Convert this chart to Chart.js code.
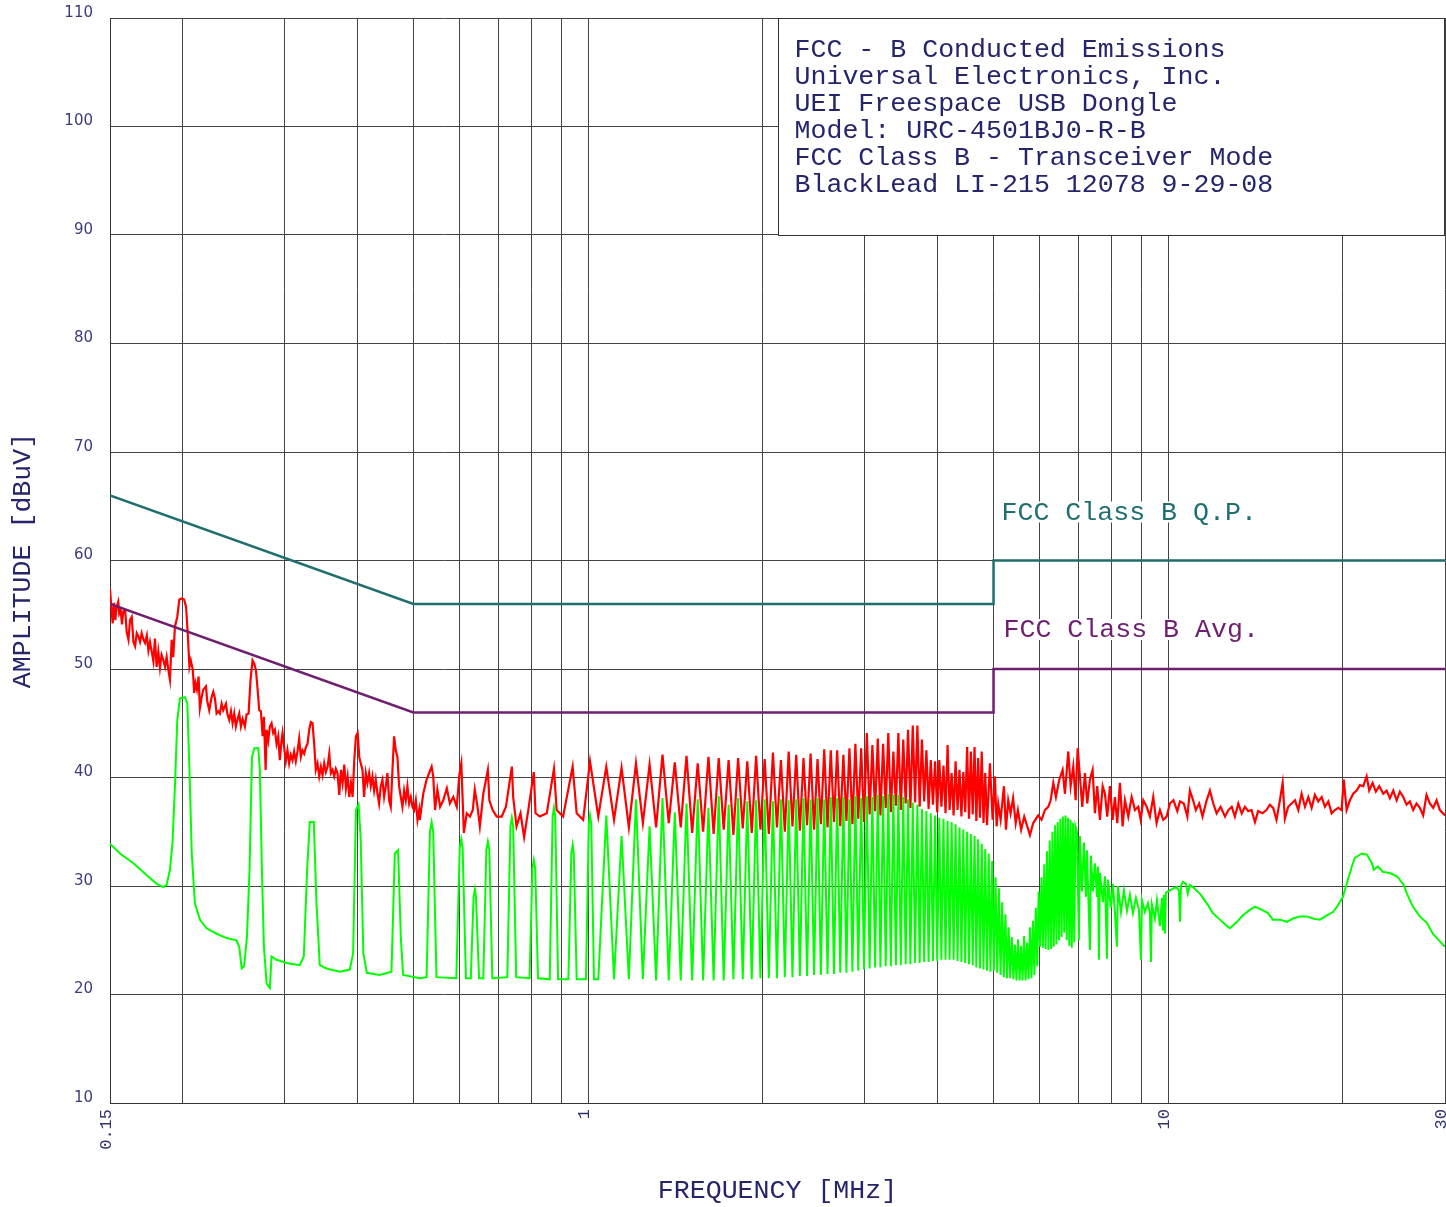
<!DOCTYPE html>
<html>
<head>
<meta charset="utf-8">
<title>FCC - B Conducted Emissions</title>
<script src="https://cdn.jsdelivr.net/npm/chart.js@4.4.1/dist/chart.umd.min.js"></script>
<style>
  html, body { margin: 0; padding: 0; background: #fff; }
  #wrap { width: 1446px; height: 1207px; position: relative; }
</style>
</head>
<body>
<div id="wrap"><canvas id="emissions"></canvas></div>
<script>
// frequency grid (MHz) and the few that carry a label
const freqGrid = [0.15, 0.2, 0.3, 0.4, 0.5, 0.6, 0.7, 0.8, 0.9, 1, 2, 3, 4, 5, 6, 7, 8, 9, 10, 20, 30]
const labeledFreqs = [0.15, 1, 10, 30]
const freqLabels = ['0.15', '1', '10', '30']

const noteLines = [
    'FCC - B Conducted Emissions',
    'Universal Electronics, Inc.',
    'UEI Freespace USB Dongle',
    'Model: URC-4501BJ0-R-B',
    'FCC Class B - Transceiver Mode',
    'BlackLead LI-215 12078 9-29-08'
]

// limit lines [MHz, dBuV]
const qpLimit = [[0.15, 66], [0.5, 56], [5, 56], [5, 60], [30, 60]]
const avgLimit = [[0.15, 56], [0.5, 46], [5, 46], [5, 50], [30, 50]]

// peak detector trace (red) [MHz, dBuV]
const peakLow = [
    [0.1500,57.4],[0.1506,56.1],[0.1516,54.2],[0.1524,56.1],[0.1532,54.5],[0.1540,55.7],[0.1550,56.2],[0.1556,55.1],
    [0.1565,55.4],[0.1573,54.1],[0.1581,55.3],[0.1593,55.4],[0.1603,53.4],[0.1614,52.7],[0.1624,54.5],[0.1635,54.8],
    [0.1646,52.5],[0.1657,52.1],[0.1668,53.3],[0.1679,53.0],[0.1690,52.5],[0.1701,53.3],[0.1713,52.7],[0.1724,52.4],
    [0.1736,53.1],[0.1747,51.7],[0.1758,52.5],[0.1770,51.6],[0.1782,50.7],[0.1793,52.8],[0.1805,50.2],[0.1817,51.6],
    [0.1829,50.1],[0.1841,51.3],[0.1854,50.8],[0.1866,50.2],[0.1878,51.1],[0.1891,49.9],[0.1903,49.0],[0.1916,52.7],
    [0.1928,51.1],[0.1941,53.9],[0.1959,54.8],[0.1975,56.4],[0.1994,56.5],[0.2013,56.4],[0.2029,55.7],[0.2042,53.3],
    [0.2056,50.2],[0.2067,50.8],[0.2084,49.9],[0.2095,47.8],[0.2106,48.7],[0.2118,48.1],[0.2132,49.3],[0.2143,46.4],
    [0.2158,47.4],[0.2172,48.1],[0.2195,48.4],[0.2206,47.1],[0.2224,46.2],[0.2245,47.4],[0.2260,47.9],[0.2275,47.3],
    [0.2290,45.9],[0.2305,46.1],[0.2320,45.9],[0.2336,46.8],[0.2351,46.2],[0.2377,46.8],[0.2389,45.9],[0.2408,45.3],
    [0.2424,46.1],[0.2440,45.0],[0.2456,45.9],[0.2472,44.7],[0.2489,45.4],[0.2505,45.9],[0.2522,44.7],[0.2539,45.4],
    [0.2562,44.7],[0.2579,45.8],[0.2600,45.9],[0.2620,49.0],[0.2641,50.8],[0.2659,50.5],[0.2677,49.9],[0.2695,48.1],
    [0.2712,46.2],[0.2730,46.1],[0.2749,43.8],[0.2763,45.6],[0.2782,40.7],[0.2793,44.4],[0.2811,43.4],[0.2829,44.7],
    [0.2848,45.0],[0.2867,44.1],[0.2886,44.4],[0.2905,43.1],[0.2924,43.8],[0.2943,41.6],[0.2963,43.4],[0.2975,44.1],
    [0.2994,42.8],[0.3014,41.5],[0.3034,42.5],[0.3054,41.3],[0.3074,42.1],[0.3095,41.6],[0.3115,42.4],[0.3136,41.5],
    [0.3157,42.4],[0.3178,43.6],[0.3199,41.9],[0.3220,42.5],[0.3242,42.2],[0.3263,42.8],[0.3285,43.1],[0.3307,44.4],
    [0.3329,45.1],[0.3351,45.0],[0.3373,43.1],[0.3395,40.7],[0.3418,41.3],[0.3441,40.1],[0.3464,41.0],[0.3487,40.2],
    [0.3510,41.3],[0.3533,40.5],[0.3557,41.0],[0.3581,42.2],[0.3604,40.4],[0.3628,40.7],[0.3652,40.1],[0.3676,40.8],
    [0.3701,40.4],[0.3726,38.4],[0.3751,40.7],[0.3776,39.5],[0.3801,41.2],[0.3826,39.0],[0.3852,40.1],[0.3877,38.2],
    [0.3903,39.5],[0.3929,38.2],[0.3955,41.6],[0.3981,43.8],[0.4008,44.1],[0.4034,41.9],[0.4058,41.3],[0.4086,40.7],
    [0.4112,38.2],[0.4140,40.4],[0.4167,39.5],[0.4195,40.4],[0.4223,39.2],[0.4251,40.1],[0.4279,38.8],[0.4307,39.8],
    [0.4336,38.5],[0.4364,37.6],[0.4393,39.2],[0.4423,39.8],[0.4452,38.2],[0.4482,39.2],[0.4511,40.4],[0.4541,37.9],
    [0.4571,37.3],[0.4602,40.7],[0.4632,43.8],[0.4663,42.5],[0.4694,41.9],[0.4725,39.2],[0.4757,38.2],[0.4788,37.3],
    [0.4820,38.8],[0.4852,37.9],[0.4884,39.2],[0.4917,37.6],[0.4950,38.2],[0.4983,37.3],[0.5016,37.0],[0.5049,37.9],
    [0.5083,36.1],[0.5117,37.0]
]
const peakMid = [
    [0.513,36.1],[0.520,38.5],[0.527,39.8],[0.5376,41.0],[0.541,40.1],[0.545,37.0],[0.550,38.9],[0.556,37.3],
    [0.563,37.9],[0.571,39.0],[0.578,37.6],[0.586,38.2],[0.594,37.3],[0.600,40.2],[0.6048,41.3],[0.611,34.9],
    [0.618,36.7],[0.626,36.4],[0.633,37.0],[0.638,38.9],[0.645,37.3],[0.651,35.5],[0.660,38.5],[0.672,40.7],
    [0.676,37.9],[0.685,37.0],[0.696,36.4],[0.710,36.4],[0.722,37.3],[0.7392,41.0],[0.743,38.2],[0.753,35.5],
    [0.765,36.7],[0.776,34.5],[0.789,37.0],[0.8064,40.5],[0.812,36.7],[0.826,36.4],[0.849,36.7],[0.8736,40.8],
    [0.883,37.0],[0.906,36.4],[0.9408,41.0],[0.956,36.7],[0.981,36.1],[1.008,41.5],
    [1.0416,36.4],[1.0752,41.0],[1.1088,36.1],[1.1424,40.9],[1.176,35.4],[1.2096,41.3],[1.2432,35.8],[1.2768,41.2],
    [1.3104,35.4],[1.344,42.1],[1.3776,35.8],[1.4112,41.4],[1.4448,35.4],[1.4784,42.0],[1.512,34.9],[1.5456,41.3],
    [1.5792,35.0],[1.6128,41.9],[1.6464,34.8],[1.68,41.8],[1.7136,35.2],[1.7472,41.6],[1.7808,34.7],[1.8144,41.8],
    [1.848,35.3],[1.8816,41.5],[1.9152,34.9],[1.9488,42.0],[1.9824,35.2],[2.016,41.7],[2.0496,34.8],[2.0832,42.3],
    [2.1168,35.4],[2.1504,41.6],[2.184,35.0],[2.2176,42.4],[2.2512,35.5],[2.2848,42.1],[2.3184,35.1],[2.352,41.8],
    [2.3856,35.6],[2.4192,42.2],[2.4528,35.2],[2.4864,41.7],[2.52,35.7],[2.5536,42.6],[2.5872,35.4],[2.6208,42.5],
    [2.6544,35.9],[2.688,42.5],[2.7216,35.5],[2.7552,42.1],[2.7888,36.0],[2.8224,42.7],[2.856,35.7],[2.8896,43.1],
    [2.9232,36.2],[2.9568,42.7],[2.9904,35.9],[3.024,44.1],[3.0576,36.6],[3.0912,43.0],[3.1248,36.9],[3.1584,43.6],
    [3.192,36.5],[3.2256,43.1],[3.2592,37.2],[3.2928,44.1],[3.3264,36.8],[3.36,42.4],[3.3936,37.4],[3.4272,44.1],
    [3.4608,37.0],[3.4944,43.5],[3.528,37.6],[3.5616,44.4],[3.5952,37.2],[3.6288,44.8],[3.6624,37.7],[3.696,44.8],
    [3.7296,37.3],[3.7632,43.5],[3.7968,37.8],[3.8304,42.5],[3.864,37.1],[3.8976,41.6],[3.9312,37.5],[3.9648,41.5],
    [3.9984,36.8],[4.032,41.6],[4.0656,37.3],[4.0992,41.1],[4.1328,36.7],[4.1664,43.0],[4.2,37.0],[4.2336,40.4],
    [4.2672,36.5],[4.3008,41.5],[4.3344,37.0],[4.368,40.7],[4.4016,36.4],[4.4352,40.5],[4.4688,36.8],[4.5024,42.8],
    [4.536,36.2],[4.5696,42.4],[4.6032,36.6],[4.6368,42.8],[4.6704,36.0],[4.704,41.8],[4.7376,36.3],[4.7712,42.4],
    [4.8048,35.8],[4.8384,40.4],[4.872,35.6]
]
const peakHigh = [
    [4.929,41.3],[4.982,36.1],[5.028,40.1],[5.062,35.5],[5.094,37.6],[5.143,36.1],[5.211,39.2],[5.252,35.2],
    [5.300,37.9],[5.350,36.7],[5.404,38.1],[5.460,35.8],[5.508,37.0],[5.579,35.2],[5.648,36.4],[5.777,34.7],
    [5.853,35.8],[5.971,36.5],[6.050,36.1],[6.131,37.0],[6.213,37.3],[6.272,37.9],[6.338,39.5],[6.405,38.2],
    [6.490,39.8],[6.577,40.7],[6.638,38.5],[6.726,42.4],[6.790,39.2],[6.861,41.0],[6.926,37.9],[6.982,42.7],
    [7.045,40.1],[7.110,37.3],[7.186,40.4],[7.252,37.6],[7.330,39.8],[7.408,40.7],[7.477,36.7],[7.546,39.2],
    [7.627,36.1],[7.710,39.2],[7.780,38.5],[7.852,36.4],[7.936,39.2],[8.021,36.1],[8.095,38.2],[8.170,35.8],
    [8.257,39.5],[8.346,35.5],[8.423,37.9],[8.535,36.4],[8.651,38.2],[8.764,37.0],[8.881,37.3],[8.966,36.1],
    [9.060,37.9],[9.183,37.3],[9.301,36.4],[9.424,38.2],[9.550,35.8],[9.678,37.0],[9.806,36.1],[9.938,36.4],
    [10.07,37.6],[10.21,37.9],[10.37,36.9],[10.48,37.8],[10.64,37.6],[10.79,36.4],[10.90,38.8],[11.04,37.9],
    [11.16,37.0],[11.31,37.6],[11.46,36.4],[11.65,37.9],[11.80,38.8],[11.96,37.6],[12.12,36.7],[12.31,37.3],
    [12.53,36.4],[12.70,37.0],[12.87,37.3],[13.03,36.4],[13.21,37.6],[13.39,36.7],[13.56,37.3],[13.74,36.9],
    [13.92,37.0],[14.11,35.9],[14.29,36.9],[14.54,36.7],[14.77,37.0],[14.97,37.5],[15.17,37.2],[15.37,36.1],
    [15.58,37.9],[15.75,39.5],[15.89,36.2],[16.10,37.3],[16.32,37.6],[16.54,37.9],[16.76,37.0],[16.98,38.5],
    [17.21,37.3],[17.44,38.2],[17.67,37.2],[17.90,38.4],[18.14,37.8],[18.39,38.2],[18.63,37.3],[18.88,37.8],
    [19.13,36.7],[19.38,37.0],[19.64,37.2],[19.90,37.0],[20.08,39.8],[20.30,37.0],[20.57,37.9],[20.84,38.5],
    [21.13,38.8],[21.40,39.3],[21.69,39.2],[21.98,40.1],[22.21,38.8],[22.51,39.5],[22.80,38.7],[23.11,39.2],
    [23.48,38.5],[23.80,38.8],[24.11,38.1],[24.43,38.8],[24.76,37.9],[25.08,38.7],[25.42,38.2],[25.76,37.5],
    [26.10,37.8],[26.44,37.0],[26.79,37.6],[27.15,37.2],[27.51,36.5],[27.88,38.4],[28.25,37.6],[28.63,37.2],
    [29.01,37.9],[29.40,37.0],[30.00,36.5]
]

// average detector trace (green) [MHz, dBuV]
const avgLow = [
    [0.1500,33.9],[0.1561,33.0],[0.1646,32.1],[0.1736,31.0],[0.1805,30.2],[0.1854,29.9],[0.1878,30.1],[0.1903,31.5],
    [0.1922,33.9],[0.1941,39.2],[0.1959,45.3],[0.1980,47.3],[0.2020,47.4],[0.2039,46.8],[0.2056,40.7],[0.2075,33.0],
    [0.2101,28.4],[0.2143,26.9],[0.2201,26.1],[0.2290,25.6],[0.2383,25.2],[0.2478,25.0],[0.2505,24.4],[0.2530,22.4],
    [0.2554,22.6],[0.2583,25.3],[0.2610,31.5],[0.2635,41.9],[0.2660,42.7],[0.2702,42.7],[0.2719,40.7],[0.2741,31.5],
    [0.2763,24.4],[0.2793,21.0],[0.2829,20.6],[0.2848,23.5],[0.2905,23.2],[0.3022,22.9],[0.3186,22.7],[0.3237,23.5],
    [0.3280,31.5],[0.3315,35.9],[0.3368,35.9],[0.3404,28.4],[0.3449,22.7],[0.3542,22.4],[0.3734,22.1],[0.3885,22.3],
    [0.3937,23.8],[0.3981,37.0],[0.4023,37.5],[0.4056,34.5],[0.4100,23.8],[0.4157,22.0],[0.4376,21.8],[0.4584,22.1],
    [0.4645,33.0],[0.4706,33.3],[0.4757,25.3],[0.4801,21.8],[0.5133,21.5]
]
const avgMid = [
    [0.527,21.6],[0.534,35.0],[0.5376,35.9],[0.541,35.0],[0.548,21.6],
    [0.593,21.5],[0.601,33.5],[0.6048,34.3],[0.608,33.5],[0.616,21.5],
    [0.628,21.5],[0.635,29.0],[0.6384,29.7],[0.641,29.0],[0.649,21.5],
    [0.660,21.5],[0.668,33.3],[0.672,34.1],[0.676,33.3],[0.684,21.5],
    [0.726,21.6],[0.735,35.5],[0.7392,36.3],[0.743,35.5],[0.752,21.6],
    [0.793,21.5],[0.802,31.6],[0.8064,32.4],[0.811,31.6],[0.820,21.5],
    [0.859,21.4],[0.869,36.4],[0.8736,37.2],[0.878,36.4],[0.888,21.4],
    [0.925,21.4],[0.936,33.0],[0.9408,33.8],[0.945,33.0],[0.956,21.4],
    [0.992,21.4],[1.003,35.7],[1.008,36.5],[1.013,35.7],[1.024,21.4],
    [1.0416,21.4],[1.0752,36.5],[1.1088,21.4],[1.1424,34.6],[1.176,21.4],[1.2096,38.0],[1.2432,21.4],[1.2768,35.5],
    [1.3104,21.3],[1.344,38.1],[1.3776,21.3],[1.4112,36.8],[1.4448,21.3],[1.4784,37.6],[1.512,21.3],[1.5456,38.0],
    [1.5792,21.3],[1.6128,37.2],[1.6464,21.3],[1.68,38.3],[1.7136,21.3],[1.7472,37.5],[1.7808,21.4],[1.8144,38.1],
    [1.848,21.4],[1.8816,37.8],[1.9152,21.4],[1.9488,37.9],[1.9824,21.5],[2.016,38.0],[2.0496,21.5],[2.0832,37.8],
    [2.1168,21.5],[2.1504,38.0],[2.184,21.6],[2.2176,37.9],[2.2512,21.6],[2.2848,38.0],[2.3184,21.7],[2.352,38.1],
    [2.3856,21.7],[2.4192,38.0],[2.4528,21.8],[2.4864,38.1],[2.52,21.8],[2.5536,38.0],[2.5872,21.9],[2.6208,38.2],
    [2.6544,21.9],[2.688,38.1],[2.7216,22.0],[2.7552,38.2],[2.7888,22.0],[2.8224,38.0],[2.856,22.1],[2.8896,38.3],
    [2.9232,22.2],[2.9568,38.1],[2.9904,22.3],[3.024,38.3],[3.0576,22.4],[3.0912,38.2],[3.1248,22.5],[3.1584,38.4],
    [3.192,22.5],[3.2256,38.3],[3.2592,22.6],[3.2928,38.5],[3.3264,22.6],[3.36,38.4],[3.3936,22.7],[3.4272,38.4],
    [3.4608,22.7],[3.4944,38.2],[3.528,22.8],[3.5616,38.0],[3.5952,22.8],[3.6288,37.7],[3.6624,22.9],[3.696,37.5],
    [3.7296,22.9],[3.7632,37.1],[3.7968,23.0],[3.8304,36.9],[3.864,23.0],[3.8976,36.7],[3.9312,23.1],[3.9648,36.5],
    [3.9984,23.1],[4.032,36.3],[4.0656,23.2],[4.0992,36.2],[4.1328,23.2],[4.1664,36.0],[4.2,23.2],[4.2336,35.9],
    [4.2672,23.2],[4.3008,35.7],[4.3344,23.1],[4.368,35.4],[4.4016,23.0],[4.4352,35.2],[4.4688,22.9],[4.5024,35.0],
    [4.536,22.8],[4.5696,34.8],[4.6032,22.7],[4.6368,34.6],[4.6704,22.5],[4.704,34.3],[4.7376,22.4],[4.7712,33.9],
    [4.8048,22.3],[4.8384,33.4],[4.872,22.2],[4.9056,33.0],[4.9392,22.1],[4.9728,32.3],[5.0064,22.2]
]
const avgHigh = [
    [5.04,30.8],[5.0736,22.0],[5.1072,29.8],[5.1408,21.8],[5.1744,28.5],[5.208,21.6],[5.2416,27.4],[5.2752,21.5],
    [5.3088,26.2],[5.3424,21.5],[5.376,25.3],[5.4096,21.4],[5.4432,24.6],[5.4768,21.3],[5.5104,25.1],[5.544,21.3],
    [5.5776,24.5],[5.6112,21.3],[5.6448,25.4],[5.6784,21.3],[5.712,24.8],[5.7456,21.4],[5.7792,26.2],[5.8128,21.5],
    [5.8464,26.8],[5.88,21.8],[5.9136,28.0],[5.9472,22.6],[5.9808,29.5],[6.0144,24.4],[6.048,30.8],[6.0816,24.3],
    [6.1152,32.0],[6.1488,24.2],[6.1824,33.2],[6.216,24.1],[6.2496,34.2],[6.2832,24.2],[6.3168,35.0],[6.3504,24.4],
    [6.384,35.6],[6.4176,24.6],[6.4512,35.9],[6.4848,25.0],[6.5184,36.2],[6.552,25.3],[6.5856,36.4],[6.6192,25.7],
    [6.6528,36.5],[6.6864,25.0],[6.72,36.3],[6.7536,24.5],[6.7872,36.1],[6.8208,24.3],[6.8544,35.8],[6.888,24.8],
    [6.9216,35.5],[6.962,35.0],[7.017,25.0],[7.045,34.6],[7.101,29.5],[7.158,34.0],[7.215,29.0],[7.244,33.3],
    [7.330,24.1],[7.360,32.8],[7.418,29.5],[7.477,32.1],[7.537,29.0],[7.567,31.8],[7.597,23.2],[7.627,31.2],
    [7.718,28.5],[7.780,30.9],[7.842,23.3],[7.873,30.6],[7.967,28.0],[8.031,30.2],[8.095,27.5],[8.159,24.4],
    [8.192,30.0],[8.290,27.6],[8.389,29.6],[8.490,27.7],[8.591,29.2],[8.694,27.5],[8.798,28.9],[8.904,27.8],
    [8.975,23.2],[9.010,28.7],[9.118,27.6],[9.227,28.4],[9.301,27.5],[9.338,23.0],[9.375,28.3],[9.487,27.0],
    [9.563,28.7],[9.678,26.3],[9.755,28.9],[9.793,25.9],[9.832,29.2],[9.871,25.6],[9.911,29.4],[10.07,29.6],
    [10.23,29.8],[10.35,29.9],[10.44,29.5],[10.48,26.7],[10.52,30.0],[10.60,30.4],[10.73,30.2],[10.81,29.3],
    [10.90,30.1],[11.03,29.9],[11.34,29.3],[11.66,28.4],[11.94,27.5],[12.28,26.9],[12.63,26.3],[12.78,26.1],
    [13.14,26.7],[13.45,27.3],[13.83,27.8],[14.11,28.1],[14.51,27.8],[14.86,27.5],[15.15,26.9],[15.58,26.9],
    [16.02,26.7],[16.41,27.0],[16.87,27.2],[17.34,27.2],[17.76,27.0],[18.26,26.9],[18.77,27.3],[19.23,27.6],
    [19.61,28.2],[20.01,29.0],[20.41,30.6],[20.73,31.8],[20.98,32.6],[21.57,33.0],[22.00,32.9],[22.45,32.1],
    [22.62,31.5],[22.99,31.8],[23.45,31.3],[24.11,31.2],[24.79,30.9],[25.48,30.1],[25.79,29.3],[26.41,28.1],
    [27.15,27.2],[27.92,26.6],[28.59,25.6],[29.40,24.9],[30.00,24.4]
]

const toPoints = (rows) => rows.map(([f, v]) => ({x: f, y: v}))

const MONO = '"Liberation Mono", "Courier New", monospace'
const INK = '#25256b'
const QP_COLOR = '#1f6f6f'
const AVG_COLOR = '#6f1f6f'

// white box with the test notes, plus the two limit captions
const notesPlugin = {
    id: 'notes',
    beforeDatasetsDraw(chart) {
        const {ctx, chartArea: a, scales: {x, y}} = chart
        const left = Math.round(a.right - 667) + 0.5
        const bottom = Math.round(y.getPixelForValue(90)) + 0.5
        ctx.save()
        ctx.fillStyle = '#fff'
        ctx.fillRect(left, a.top, a.right - left, bottom - a.top)
        ctx.strokeStyle = '#333'
        ctx.lineWidth = 1
        ctx.strokeRect(left, a.top + 0.5, a.right - left - 0.5, bottom - a.top - 0.5)
        ctx.font = '26.6px ' + MONO
        ctx.textBaseline = 'middle'
        ctx.fillStyle = INK
        noteLines.forEach((t, i) => ctx.fillText(t, left + 16, a.top + 32 + i * 27))

        // limit captions sit on a white patch over the grid
        const step = x.getPixelForValue(5)
        const captions = [
            {text: 'FCC Class B Q.P.', color: QP_COLOR, dx: 8, y: y.getPixelForValue(60) - 48},
            {text: 'FCC Class B Avg.', color: AVG_COLOR, dx: 10, y: y.getPixelForValue(50) - 39}
        ]
        captions.forEach(c => {
            const w = ctx.measureText(c.text).width
            ctx.fillStyle = '#fff'
            ctx.fillRect(step + c.dx - 2, c.y - 11, w + 4, 21)
            ctx.fillStyle = c.color
            ctx.fillText(c.text, step + c.dx, c.y)
        })
        ctx.restore()
    }
}

new Chart(document.getElementById('emissions'), {
    type: 'scatter',
    data: {
        datasets: [
            {label: 'FCC Class B Q.P.', data: toPoints(qpLimit), showLine: true, borderColor: QP_COLOR, borderWidth: 2.5, pointRadius: 0, order: 0},
            {label: 'FCC Class B Avg.', data: toPoints(avgLimit), showLine: true, borderColor: AVG_COLOR, borderWidth: 2.5, pointRadius: 0, order: 0},
            {label: 'Average', data: toPoints(avgLow.concat(avgMid, avgHigh)), showLine: true, borderColor: '#00ff00', borderWidth: 2, pointRadius: 0, order: 1},
            {label: 'Peak', data: toPoints(peakLow.concat(peakMid, peakHigh)), showLine: true, borderColor: '#ff0000', borderWidth: 2.2, pointRadius: 0, order: 2}
        ]
    },
    options: {
        responsive: true,
        maintainAspectRatio: false,
        devicePixelRatio: 1,
        animation: false,
        layout: {padding: {top: 18, right: 1, bottom: 0, left: 0}},
        plugins: {legend: {display: false}, tooltip: {enabled: false}},
        elements: {line: {tension: 0}},
        scales: {
            x: {
                type: 'logarithmic',
                min: 0.15,
                max: 30,
                afterBuildTicks: (scale) => {
                    scale.ticks = freqGrid.map(v => ({value: v}))
                },
                afterFit: (scale) => {
                    scale.height = 104
                    scale.paddingLeft = 0
                    scale.paddingRight = 0
                },
                ticks: {
                    autoSkip: false,
                    minRotation: 90,
                    maxRotation: 90,
                    padding: 6,
                    labelOffset: -4,
                    color: '#33336e',
                    font: {family: MONO, size: 17},
                    callback: (v) => {
                        const i = labeledFreqs.indexOf(v)
                        return i >= 0 ? freqLabels[i] : ''
                    }
                },
                grid: {color: '#444', lineWidth: 1, drawTicks: false},
                border: {color: '#333', width: 1},
                title: {display: true, text: 'FREQUENCY [MHz]', color: INK, font: {family: MONO, size: 26.6}, padding: {top: 0, bottom: 0}}
            },
            y: {
                min: 10,
                max: 110,
                afterFit: (scale) => {
                    scale.width = 110
                    scale.paddingTop = 0
                    scale.paddingBottom = 0
                },
                ticks: {
                    stepSize: 10,
                    padding: 17,
                    labelOffset: -5,
                    color: '#3c3c7c',
                    font: {family: 'DejaVu Sans', size: 15}
                },
                grid: {color: '#444', lineWidth: 1, drawTicks: false},
                border: {color: '#333', width: 1},
                title: {display: true, text: 'AMPLITUDE [dBuV]', color: INK, font: {family: MONO, size: 26.6}, padding: {top: 7, bottom: 0}}
            }
        }
    },
    plugins: [notesPlugin]
})
</script>
</body>
</html>
